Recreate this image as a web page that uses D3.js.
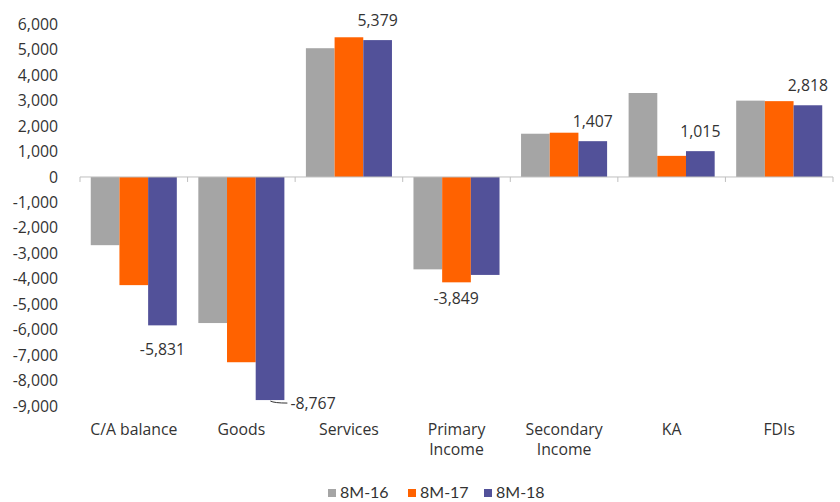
<!DOCTYPE html>
<html>
<head>
<meta charset="utf-8">
<script src="https://cdn.jsdelivr.net/npm/d3@7"></script>
<style>
  body { margin: 0; background: #fff; }
  svg text { font-family: "Open Sans", Lato, sans-serif; fill: #333; }
  svg text.legend { font-family: Lato, sans-serif; }
</style>
</head>
<body>
<div id="chart"></div>
<script>
// chart data
const categories = [["C/A balance"], ["Goods"], ["Services"], ["Primary", "Income"], ["Secondary", "Income"], ["KA"], ["FDIs"]];
const seriesNames = ["8M-16", "8M-17", "8M-18"];
const s16 = [-2680, -5740, 5060, -3630, 1700, 3300, 3000];
const s17 = [-4250, -7280, 5490, -4140, 1740, 830, 2980];
const s18 = [-5831, -8767, 5379, -3849, 1407, 1015, 2818];
const yTicks = d3.range(-9000, 6001, 1000);

const colors = ["#a5a5a5", "#ff6200", "#525199"];
const width = 840, height = 502;
const margin = {top: 24, right: 7, bottom: 96, left: 80};
const fontSize = "15.8px";

const svg = d3.select("#chart").append("svg")
    .attr("width", width)
    .attr("height", height);

const x0 = d3.scaleBand()
    .domain(categories.map((d, i) => i))
    .range([margin.left, width - margin.right])
    .paddingInner(0.2)
    .paddingOuter(0.1);

const x1 = d3.scaleBand()
    .domain(seriesNames)
    .range([0, x0.bandwidth()]);

const y = d3.scaleLinear()
    .domain([-9000, 6000])
    .range([406, 24.3]);

const step = x0.step();
// plain hyphen for negatives, like the original
const fmt = v => d3.format(",")(v).replace("\u2212", "-");

// y tick labels
svg.append("g").selectAll("text")
    .data(yTicks)
    .enter().append("text")
    .attr("x", 58)
    .attr("y", d => y(d))
    .attr("dy", "0.35em")
    .attr("text-anchor", "end")
    .style("font-size", fontSize)
    .text(d => fmt(d));

// bars
const all = [s16, s17, s18];
seriesNames.forEach(function(name, si) {
    svg.append("g").selectAll("rect")
        .data(all[si])
        .enter().append("rect")
        .attr("x", (d, i) => x0(i) + x1(name))
        .attr("width", x1.bandwidth())
        .attr("y", d => y(Math.max(0, d)))
        .attr("height", d => Math.abs(y(d) - y(0)))
        .attr("fill", colors[si]);
});

// zero axis with category ticks
const axisX0 = margin.left, axisX1 = width - margin.right;
svg.append("line")
    .attr("x1", axisX0).attr("x2", axisX1)
    .attr("y1", y(0)).attr("y2", y(0))
    .attr("stroke", "#bfbfbf").attr("stroke-width", 1);
svg.append("g").selectAll("line")
    .data(d3.range(categories.length + 1))
    .enter().append("line")
    .attr("x1", i => axisX0 + i * step)
    .attr("x2", i => axisX0 + i * step)
    .attr("y1", y(0)).attr("y2", y(0) + 5)
    .attr("stroke", "#bfbfbf");

// category labels
const catG = svg.append("g");
categories.forEach(function(lines, i) {
    const t = catG.append("text")
        .attr("x", x0(i) + x0.bandwidth() / 2)
        .attr("y", 435)
        .attr("text-anchor", "middle")
        .style("font-size", fontSize);
    lines.forEach(function(l, j) {
        t.append("tspan")
            .attr("x", x0(i) + x0.bandwidth() / 2)
            .attr("dy", j == 0 ? 0 : 20)
            .text(l);
    });
});

// data labels for 8M-18 (some nudged like the original)
const labelShift = [0, 0, 0, -29, 0, 0, 0];
svg.append("g").selectAll("text")
    .data(s18)
    .enter().append("text")
    .attr("x", (d, i) => x0(i) + x1("8M-18") + x1.bandwidth() / 2 + labelShift[i])
    .attr("y", (d, i) => d >= 0 ? y(d) - 20 : y(d) + 24)
    .attr("dy", "0.35em")
    .attr("text-anchor", "middle")
    .style("font-size", fontSize)
    .text(d => fmt(d))
    .each(function(d, i) {
        // Goods label sits to the right of the bar with a leader line
        if (i == 1) {
            const bx = x0(i) + x1("8M-18") + x1.bandwidth();
            d3.select(this)
                .attr("x", bx + 6)
                .attr("y", y(d) + 3)
                .attr("text-anchor", "start");
            svg.append("path")
                .attr("d", "M" + (bx - 14) + "," + (y(d) + 1) + " Q" + (bx - 10) + "," + (y(d) + 3) + " " + (bx + 3) + "," + (y(d) + 3))
                .attr("fill", "none")
                .attr("stroke", "#333")
                .attr("stroke-width", 1);
        }
    });

// legend
const legend = svg.append("g");
const legendX = [328, 408, 484];
seriesNames.forEach(function(name, i) {
    legend.append("rect")
        .attr("x", legendX[i])
        .attr("y", 489)
        .attr("width", 8).attr("height", 8)
        .attr("fill", colors[i]);
    legend.append("text")
        .attr("class", "legend")
        .attr("x", legendX[i] + 12)
        .attr("y", 492)
        .attr("dy", "0.35em")
        .style("font-size", "16px")
        .text(name);
});
</script>
</body>
</html>
